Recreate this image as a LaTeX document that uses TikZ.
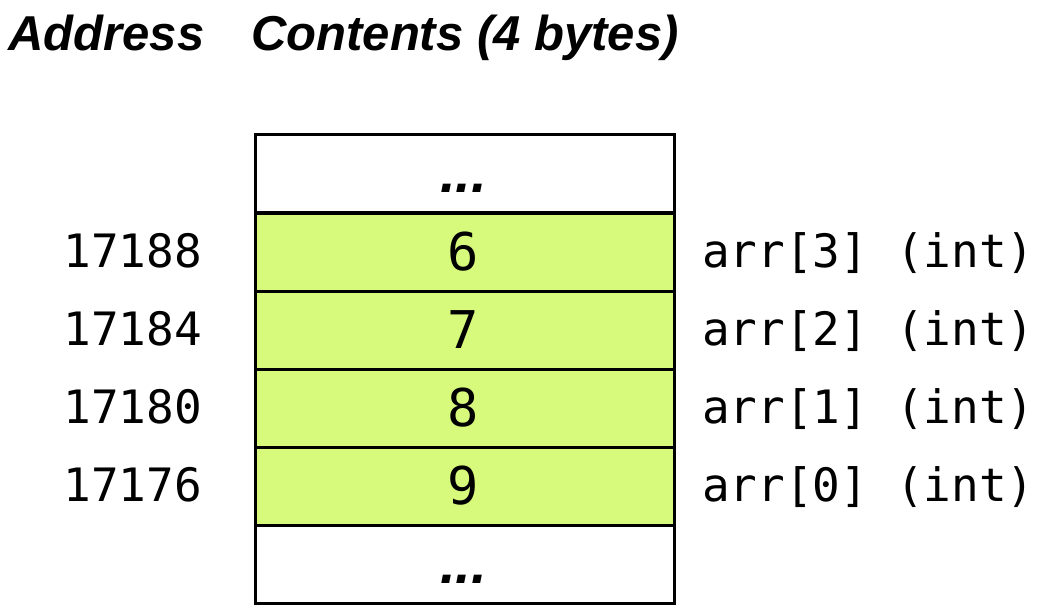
\documentclass[tikz,border=0pt]{standalone}
\usepackage{fontspec}
\setmainfont{Liberation Sans}
\newfontfamily\monofont{DejaVu Sans Mono}
\definecolor{cellgreen}{RGB}{215,250,125}
\begin{document}
\begin{tikzpicture}[x=1pt,y=-1pt,
  cellbox/.style={draw=black,line width=2.6pt,minimum width=419pt,minimum height=78pt,inner sep=0pt,anchor=north west},
  valcell/.style={cellbox,fill=cellgreen},
  emptycell/.style={cellbox,fill=white},
  header/.style={font=\fontsize{49}{55}\selectfont\bfseries\itshape,anchor=base west,inner sep=0pt},
  addr/.style={font=\monofont\fontsize{46}{50}\selectfont,anchor=base east,inner sep=0pt},
  lbl/.style={font=\monofont\fontsize{46}{50}\selectfont,anchor=base west,inner sep=0pt},
  val/.style={font=\monofont\fontsize{52}{56}\selectfont,anchor=base,inner sep=0pt},
  dots/.style={font=\fontsize{56}{60}\selectfont\bfseries\itshape,anchor=base,inner sep=0pt}]
\useasboundingbox (0,0) rectangle (1038,608);
\node[header] (hA) at (8,50) {Address};
\node[header] (hC) at (251,50) {Contents (4 bytes)};
% cells
\node[emptycell] (ctop) at (254,133) {};
\node[valcell] (c3) at (254,212) {};
\node[valcell] (c2) at (254,290) {};
\node[valcell] (c1) at (254,368) {};
\node[valcell] (c0) at (254,446) {};
\node[emptycell] (cbot) at (254,524) {};
\node[dots] (dtop) at (463.5,192) {...};
\node[dots] (dbot) at (463.5,583) {...};
\node[val] (v3) at (463.5,270) {6};
\node[val] (v2) at (463.5,348) {7};
\node[val] (v1) at (463.5,426) {8};
\node[val] (v0) at (463.5,504) {9};
\node[addr] (a3) at (202,267) {17188};
\node[addr] (a2) at (202,345) {17184};
\node[addr] (a1) at (202,423) {17180};
\node[addr] (a0) at (202,501) {17176};
\node[lbl] (l3) at (702,267) {arr[3] (int)};
\node[lbl] (l2) at (702,345) {arr[2] (int)};
\node[lbl] (l1) at (702,423) {arr[1] (int)};
\node[lbl] (l0) at (702,501) {arr[0] (int)};
\end{tikzpicture}
\end{document}
